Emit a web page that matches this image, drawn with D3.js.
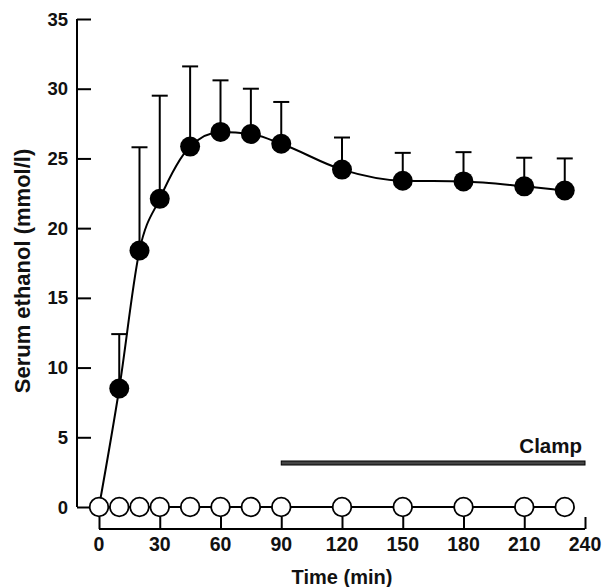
<!DOCTYPE html>
<html><head><meta charset="utf-8">
<script src="https://cdn.jsdelivr.net/npm/d3@7"></script>
<style>body{margin:0;background:#fff}text{font-family:"Liberation Sans",Arial,sans-serif;font-weight:bold;fill:#111}</style>
</head><body><svg id="c" width="602" height="587"></svg>
<script>
const times = [0, 10, 20, 30, 45, 60, 75, 90, 120, 150, 180, 210, 230];
const ethanol = [0, 8.5, 18.4, 22.1, 25.85, 26.9, 26.75, 26.05, 24.2, 23.4, 23.35, 23.0, 22.7];
const ethanolUpper = [null, 12.4, 25.8, 29.5, 31.6, 30.6, 30.0, 29.05, 26.5, 25.4, 25.45, 25.05, 25.0];
const control = [0, 0, 0, 0, 0, 0, 0, 0, 0, 0, 0, 0, 0];
const xTicks = [0, 30, 60, 90, 120, 150, 180, 210, 240];
const yTicks = [0, 5, 10, 15, 20, 25, 30, 35];
const clamp = [90, 240];

const svg = d3.select("#c");
const x = d3.scaleLinear().domain([0, 240]).range([99, 585]);
const y = d3.scaleLinear().domain([0, 35]).range([507, 19]);

// y axis
const yAx = svg.append("g").attr("transform", "translate(77,0)")
  .call(d3.axisRight(y).tickValues(yTicks).tickSize(14).tickFormat(""));
yAx.select(".domain").attr("d", `M0,${y(35)}V${y(0)}`).attr("stroke-width", 2);
yAx.selectAll(".tick line").attr("stroke-width", 2);
yAx.selectAll(".ylab").data(yTicks).join("text")
  .attr("x", -9).attr("y", d => y(d) + 6.5).attr("text-anchor", "end")
  .attr("font-size", 18.5).text(d => d);

// x axis
const xAx = svg.append("g").attr("transform", "translate(0,529)")
  .call(d3.axisTop(x).tickValues(xTicks).tickSize(12).tickFormat(""));
xAx.select(".domain").attr("d", `M${x(0)},0H${x(240)}`).attr("stroke-width", 2);
xAx.selectAll(".tick line").attr("stroke-width", 2);
xAx.selectAll(".xlab").data(xTicks).join("text")
  .attr("x", d => x(d)).attr("y", 22).attr("text-anchor", "middle")
  .attr("font-size", 19.5).text(d => d);

svg.append("text").attr("x", 342).attr("y", 584).attr("text-anchor", "middle")
  .attr("font-size", 20).text("Time (min)");
svg.append("text").attr("transform", "translate(30,271) rotate(-90)")
  .attr("text-anchor", "middle").attr("font-size", 22).text("Serum ethanol (mmol/l)");

// clamp bar
svg.append("rect").attr("x", x(clamp[0])).attr("y", 461).attr("width", x(clamp[1]) - x(clamp[0])).attr("height", 4)
  .attr("fill", "#444").attr("stroke", "#000").attr("stroke-width", 1);
svg.append("text").attr("x", x(clamp[1]) - 3).attr("y", 453).attr("text-anchor", "end")
  .attr("font-size", 20.5).text("Clamp");

const pts = times.map((t, i) => ({t, v: ethanol[i], u: ethanolUpper[i], c: control[i]}));

// error bars
const eb = pts.filter(d => d.u != null);
svg.selectAll(".eb").data(eb).join("line")
  .attr("x1", d => x(d.t)).attr("x2", d => x(d.t)).attr("y1", d => y(d.v)).attr("y2", d => y(d.u))
  .attr("stroke", "#000").attr("stroke-width", 2);
svg.selectAll(".cap").data(eb).join("line")
  .attr("x1", d => x(d.t) - 8).attr("x2", d => x(d.t) + 8).attr("y1", d => y(d.u)).attr("y2", d => y(d.u))
  .attr("stroke", "#000").attr("stroke-width", 2);

// lines
svg.append("path").datum(pts).attr("fill", "none").attr("stroke", "#000").attr("stroke-width", 2)
  .attr("d", d3.line().x(d => x(d.t)).y(d => y(d.v)).curve(d3.curveMonotoneX));
svg.append("path").datum(pts).attr("fill", "none").attr("stroke", "#000").attr("stroke-width", 1.8)
  .attr("d", d3.line().x(d => x(d.t)).y(d => y(d.c)));

// filled dots
svg.selectAll(".fd").data(pts.filter(d => d.t > 0)).join("circle")
  .attr("cx", d => x(d.t)).attr("cy", d => y(d.v)).attr("r", 10).attr("fill", "#000");
// open dots
svg.selectAll(".od").data(pts).join("circle")
  .attr("cx", d => x(d.t)).attr("cy", d => y(d.c)).attr("r", 9.3).attr("fill", "#fff")
  .attr("stroke", "#000").attr("stroke-width", 1.8);
</script></body></html>
